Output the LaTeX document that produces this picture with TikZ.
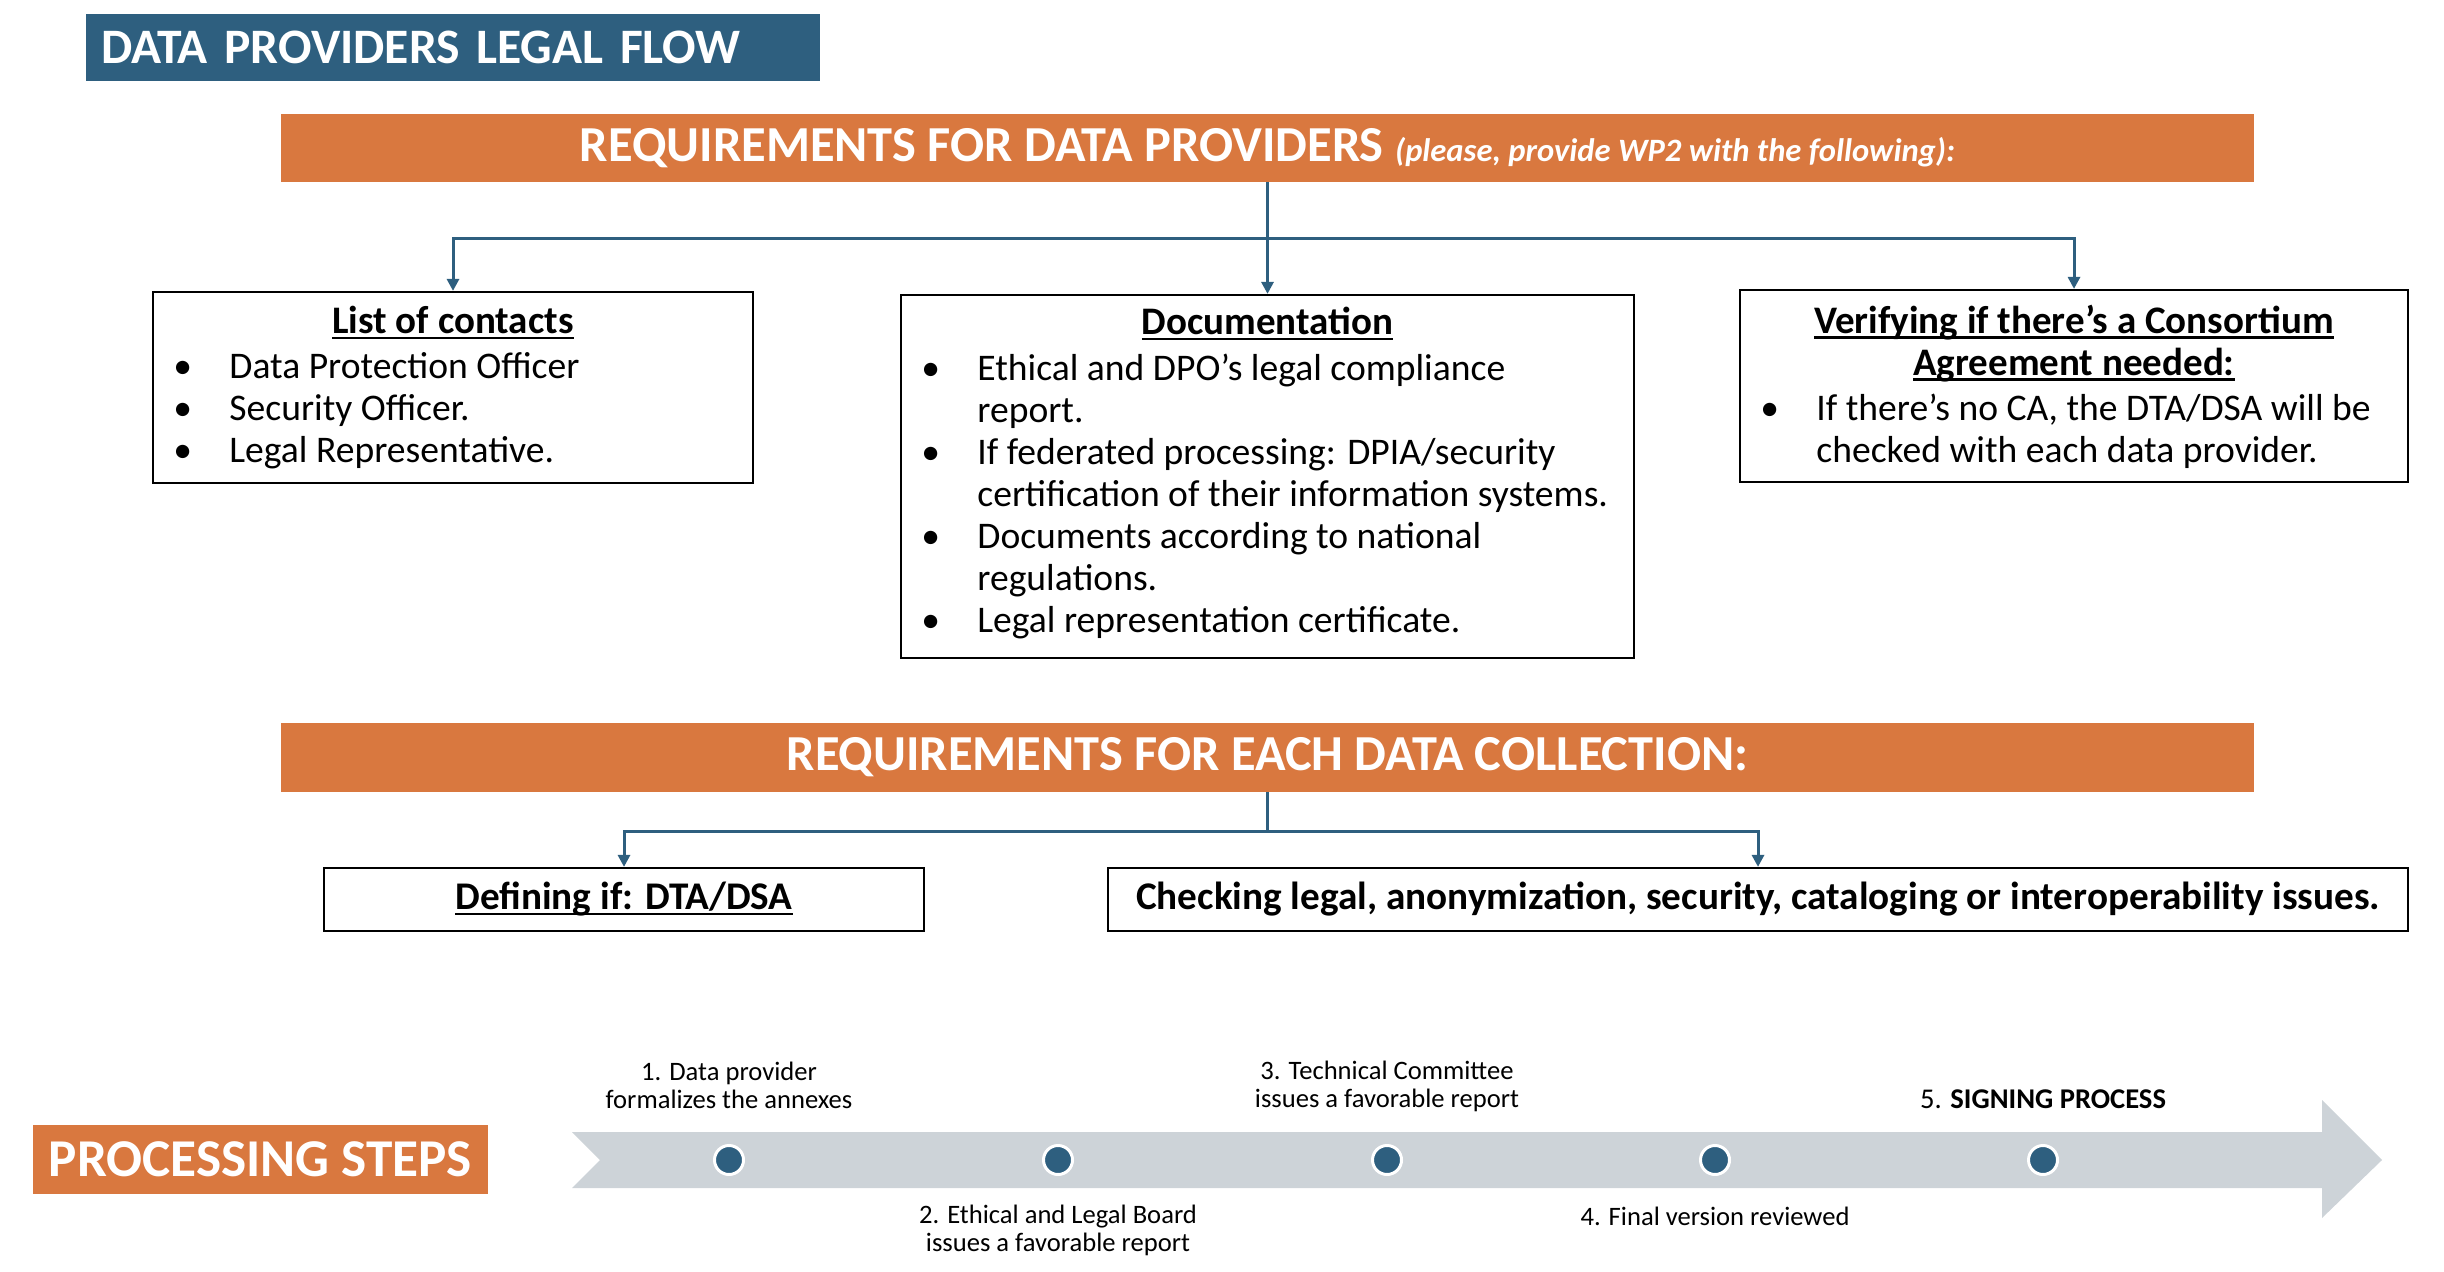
\documentclass[tikz,border=0pt]{standalone}
\usepackage{fontspec}
\setmainfont{Carlito}
\usetikzlibrary{arrows.meta}
\definecolor{dblue}{HTML}{2E5F7F}
\definecolor{orng}{HTML}{D9783F}
\definecolor{lgray}{HTML}{CDD3D8}
\newcommand\bl{\makebox[28pt][l]{\textbullet}}
\newcommand\ind{\hspace*{28pt}}
\newcommand\uln[1]{\setbox0\hbox{#1}\rlap{\rule[-2.4pt]{\wd0}{1.1pt}}\box0}
\begin{document}
\begin{tikzpicture}[x=0.5pt,y=-0.5pt,
  box/.style={draw=black, line width=1.1pt, fill=white, inner sep=0pt},
  bar/.style={fill=orng, text=white, inner sep=0pt, minimum width=986.5pt, minimum height=34pt},
  conn/.style={draw=dblue, line width=1.5pt, -{Triangle[length=6pt,width=6pt]}},
  cline/.style={draw=dblue, line width=1.5pt},
  head/.style={font=\fontsize{19.5}{21}\selectfont\bfseries, inner sep=0pt},
  list/.style={font=\fontsize{18.8}{21}\selectfont, align=left, inner sep=0pt, anchor=north west},
  dot/.style={circle, fill=dblue, draw=white, line width=1.5pt, minimum size=14.5pt, inner sep=0pt},
  steplbl/.style={font=\fontsize{13.3}{14}\selectfont, align=center, inner sep=0pt}
]
\useasboundingbox (0,0) rectangle (2444,1272);

% title
\node[fill=dblue, text=white, inner ysep=0pt, inner xsep=7.5pt, minimum height=33.5pt,
      text width=352pt, align=left, font=\fontsize{24.8}{26}\selectfont\bfseries]
  (title) at (453,47.5) {DATA PROVIDERS LEGAL FLOW};

% bar 1
\node[bar] (bar1) at (1267.5,148)
  {\fontsize{25.2}{26}\selectfont\bfseries REQUIREMENTS FOR DATA PROVIDERS \fontsize{16.3}{18}\selectfont\itshape(please, provide WP2 with the following):};

% boxes
\node[box, minimum width=300pt, minimum height=95.5pt] (box1) at (453,387.5) {};
\node[box, minimum width=366.5pt, minimum height=181.5pt] (box2) at (1267.5,476.5) {};
\node[box, minimum width=334pt, minimum height=96pt] (box3) at (2074,386) {};

\node[head, anchor=base] (h1) at (453,334) {\uln{List of contacts}};
\node[list] (l1) at (173,352) {\bl Data Protection Officer\\ \bl Security Officer.\\ \bl Legal Representative.};

\node[head, anchor=base] (h2) at (1267.5,335) {\uln{Documentation}};
\node[list] (l2) at (921,354) {\bl Ethical and DPO’s legal compliance\\ \ind report.\\ \bl If federated processing: DPIA/security\\ \ind certification of their information systems.\\ \bl Documents according to national\\ \ind regulations.\\ \bl Legal representation certificate.};

\node[head, align=center, anchor=north] (h3) at (2074,305) {\uln{Verifying if there’s a Consortium}\\ \uln{Agreement needed:}};
\node[list] (l3) at (1760,394) {\bl If there’s no CA, the DTA/DSA will be\\ \ind checked with each data provider.};

% connectors 1
\coordinate (j1) at (1267.5,239);
\draw[cline] (bar1.south) -- (j1);
\draw[conn] (j1) -| (box1.north);
\draw[conn] (j1) -| (box3.north);
\draw[conn] (bar1.south) -- (box2.north);

% bar 2
\node[bar, minimum height=34.5pt] (bar2) at (1267.5,757.5)
  {\fontsize{25.2}{26}\selectfont\bfseries REQUIREMENTS FOR EACH DATA COLLECTION:};

\node[box, minimum width=300pt, minimum height=31.5pt, font=\fontsize{19.6}{21}\selectfont\bfseries] (dta) at (624,899.5) {\uln{Defining if: DTA/DSA}};
\node[box, minimum width=650pt, minimum height=31.5pt, font=\fontsize{19.6}{21}\selectfont\bfseries] (chk) at (1758,899.5) {Checking legal, anonymization, security, cataloging or interoperability issues.};

\coordinate (j2) at (1267.5,831);
\draw[cline] (bar2.south) -- (j2);
\draw[conn] (j2) -| (dta.north);
\draw[conn] (j2) -| (chk.north);

% processing steps
\node[fill=orng, text=white, inner sep=0pt, minimum width=227.5pt, minimum height=34.5pt,
      font=\fontsize{26.6}{28}\selectfont\bfseries] (proc) at (260.5,1159.5) {PROCESSING STEPS};

\fill[lgray] (572,1132) -- (2322,1132) -- (2322,1100) -- (2382,1160) -- (2322,1218)
  -- (2322,1188) -- (572,1188) -- (600,1160) -- cycle;

\node[dot] (d1) at (729,1160) {};
\node[dot] (d2) at (1058,1160) {};
\node[dot] (d3) at (1387,1160) {};
\node[dot] (d4) at (1715,1160) {};
\node[dot] (d5) at (2043,1160) {};

\node[steplbl] (s1) at (729,1085) {1. Data provider\\ formalizes the annexes};
\node[steplbl] (s3) at (1387,1086) {3. Technical Committee\\ issues a favorable report};
\node[steplbl, font=\fontsize{14.3}{15}\selectfont] (s5) at (2043,1099) {5. \textbf{SIGNING PROCESS}};
\node[steplbl] (s2) at (1058,1230) {2. Ethical and Legal Board\\ issues a favorable report};
\node[steplbl] (s4) at (1715,1216) {4. Final version reviewed};
\end{tikzpicture}
\end{document}
